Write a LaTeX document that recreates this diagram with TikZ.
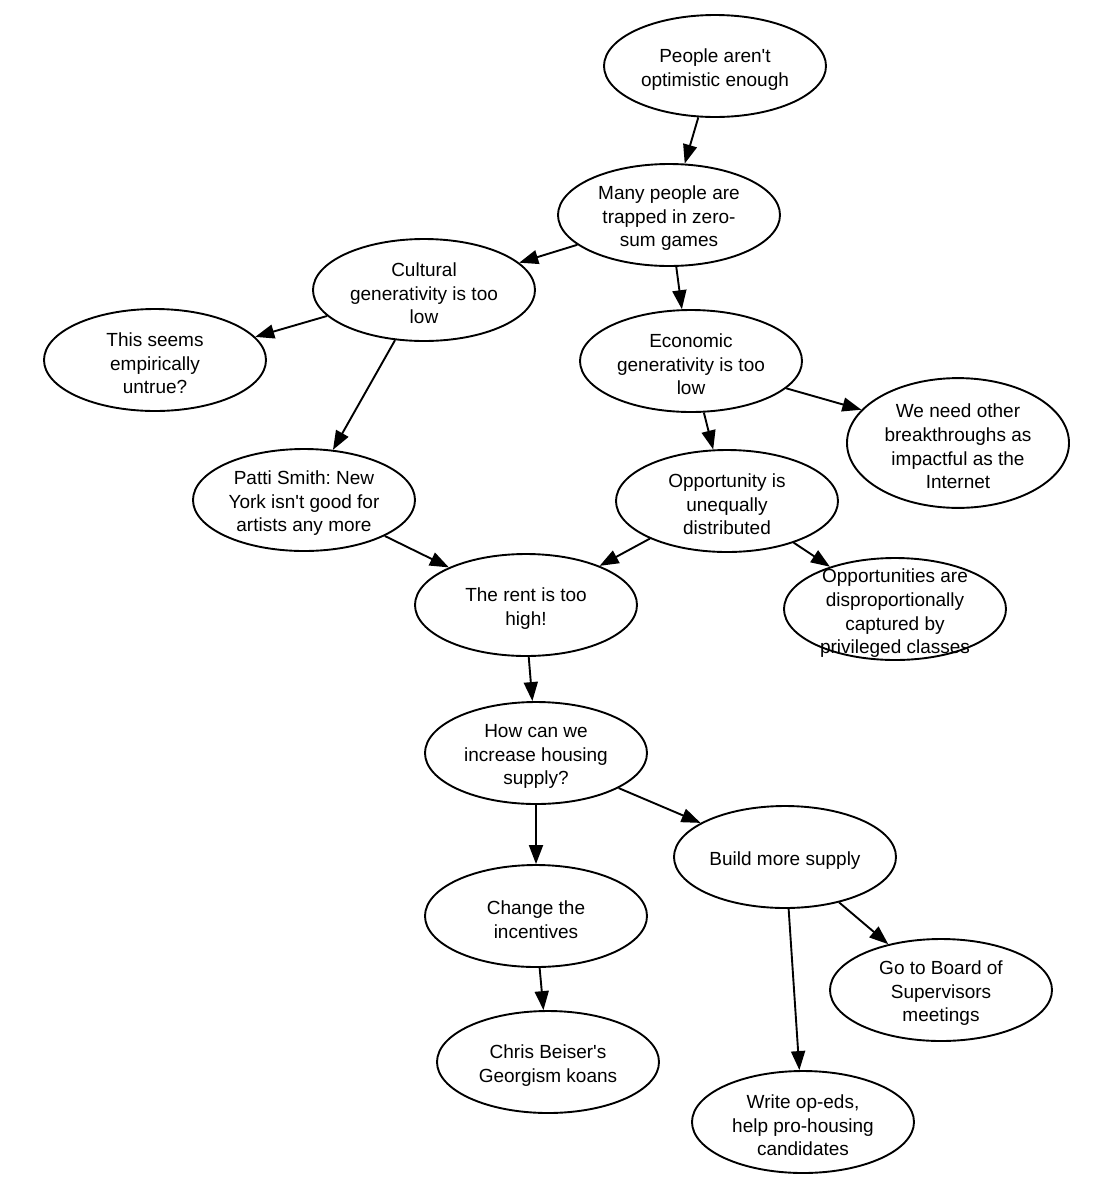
\documentclass[tikz,border=0pt]{standalone}
\usepackage{fontspec}
\setmainfont{Liberation Sans}[Ligatures=TeXOff]
\usetikzlibrary{shapes.geometric,arrows.meta}
\frenchspacing
\newcommand\fl{\rule{0pt}{20.5pt}}
\tikzset{
  bub/.style={ellipse, draw, line width=1.9pt, minimum width=222pt, minimum height=102pt,
    inner sep=0pt, align=center, font=\fontsize{19pt}{23.7pt}\selectfont\frenchspacing},
  plain/.style={inner sep=0pt, align=center, font=\fontsize{19pt}{23.7pt}\selectfont\frenchspacing},
  conn/.style={line width=1.9pt, -{Triangle[length=19pt,width=14pt]}}
}
\begin{document}
\begin{tikzpicture}
\useasboundingbox[fill=white] (0,0) rectangle (1118pt,-1200pt);
\node[bub] (n1) at (715pt,-66pt) {\fl People aren't\\optimistic enough};
\node[bub] (n2) at (669pt,-215pt) {\fl Many people are\\trapped in zero-\\sum games};
\node[bub] (n3) at (424pt,-290pt) {\fl Cultural\\generativity is too\\low};
\node[bub] (n4) at (155pt,-360pt) {\fl This seems\\empirically\\untrue?};
\node[bub] (n5) at (691pt,-361pt) {\fl Economic\\generativity is too\\low};
\node[bub] (n6) at (958pt,-443pt) {\fl We need other\\breakthroughs as\\impactful as the\\Internet};
\node[bub] (n7) at (304pt,-500pt) {\fl Patti Smith: New\\York isn't good for\\artists any more};
\node[bub] (n8) at (727pt,-501pt) {\fl Opportunity is\\unequally\\distributed};
\node[bub] (n9) at (526pt,-605pt) {\fl The rent is too\\high!};
\node[bub] (n10) at (895pt,-609pt) {};
\node[plain] (n10t) at (895pt,-610pt) {\fl Opportunities are\\disproportionally\\captured by\\privileged classes};
\node[bub] (n11) at (536pt,-753pt) {\fl How can we\\increase housing\\supply?};
\node[bub] (n12) at (785pt,-857pt) {\fl Build more supply};
\node[bub] (n13) at (536pt,-916pt) {\fl Change the\\incentives};
\node[bub] (n14) at (941pt,-990pt) {\fl Go to Board of\\Supervisors\\meetings};
\node[bub] (n15) at (548pt,-1062pt) {\fl Chris Beiser's\\Georgism koans};
\node[bub] (n16) at (803pt,-1122pt) {\fl Write op-eds,\\help pro-housing\\candidates};

\draw[conn] (n1.-108) -- (n2.73.5);
\draw[conn] (n2.-162.9) -- (n3.16.6);
\draw[conn] (n2.-82.3) -- (n5.100.3);
\draw[conn] (n3.-165.4) -- (n4.13.8);
\draw[conn] (n3.-120.3) -- (n7.60.9);
\draw[conn] (n5.-16.6) -- (n6.161.9);
\draw[conn] (n5.-76) -- (n8.105.9);
\draw[conn] (n7.-24.8) -- (n9.154.3);
\draw[conn] (n8.-154.3) -- (n9.28.9);
\draw[conn] (n8.-32.5) -- (n10.147.1);
\draw[conn] (n9.-87.8) -- (n11.94.2);
\draw[conn] (n11.-90) -- (n13.90);
\draw[conn] (n11.-23.2) -- (n12.158.1);
\draw[conn] (n13.-86.8) -- (n15.95.3);
\draw[conn] (n12.-40.5) -- (n14.139.4);
\draw[conn] (n12.-86.8) -- (n16.94.2);
\end{tikzpicture}
\end{document}
